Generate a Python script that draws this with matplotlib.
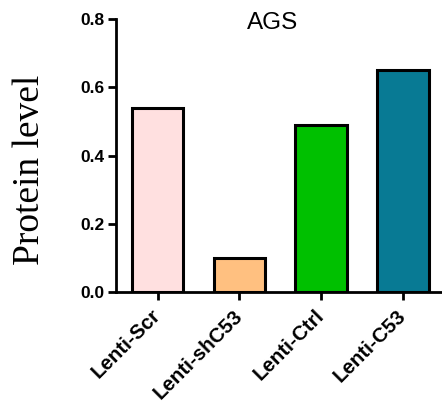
import numpy as np
import matplotlib.pyplot as plt

groups = ['Lenti-Scr', 'Lenti-shC53', 'Lenti-Ctrl', 'Lenti-C53']
protein = [0.54, 0.10, 0.49, 0.65]
colours = ['#FFE0E0', '#FFC080', '#00C000', '#087A94']

fig = plt.figure(figsize=(4.42, 4.08), dpi=100)
ax = fig.add_axes([0.2624, 0.2843, 0.7376, 0.6691])

x = np.arange(len(groups))
ax.bar(x, protein, width=0.63, color=colours, edgecolor='black', linewidth=2.2)

ax.set_xlim(-0.51, 3.48)
ax.set_ylim(0, 0.8)
ax.set_yticks([0.0, 0.2, 0.4, 0.6, 0.8])
ax.set_yticklabels(['0.0', '0.2', '0.4', '0.6', '0.8'],
                   fontfamily='Liberation Sans', fontweight='bold', fontsize=12.5)
ax.set_xticks(x)
ax.set_xticklabels(groups, rotation=45, ha='right', va='center', rotation_mode='anchor',
                   fontfamily='Liberation Sans', fontweight='bold', fontsize=14.8)

for s in ['top', 'right']:
    ax.spines[s].set_visible(False)
for s in ['left', 'bottom']:
    ax.spines[s].set_linewidth(2)
ax.tick_params(axis='both', width=2, length=6, pad=2)
ax.tick_params(axis='x', pad=9)

ax.text(0.48, 0.985, 'AGS', transform=ax.transAxes, ha='center', va='center',
        fontfamily='Liberation Sans', fontsize=17.5)
# y label sits a bit below the axis centre in the original
ax.text(-0.264, 0.447, 'Protein level', transform=ax.transAxes, rotation=90,
        ha='center', va='center', fontfamily='Liberation Serif', fontsize=27)

fig.savefig('out.png', dpi=100)
